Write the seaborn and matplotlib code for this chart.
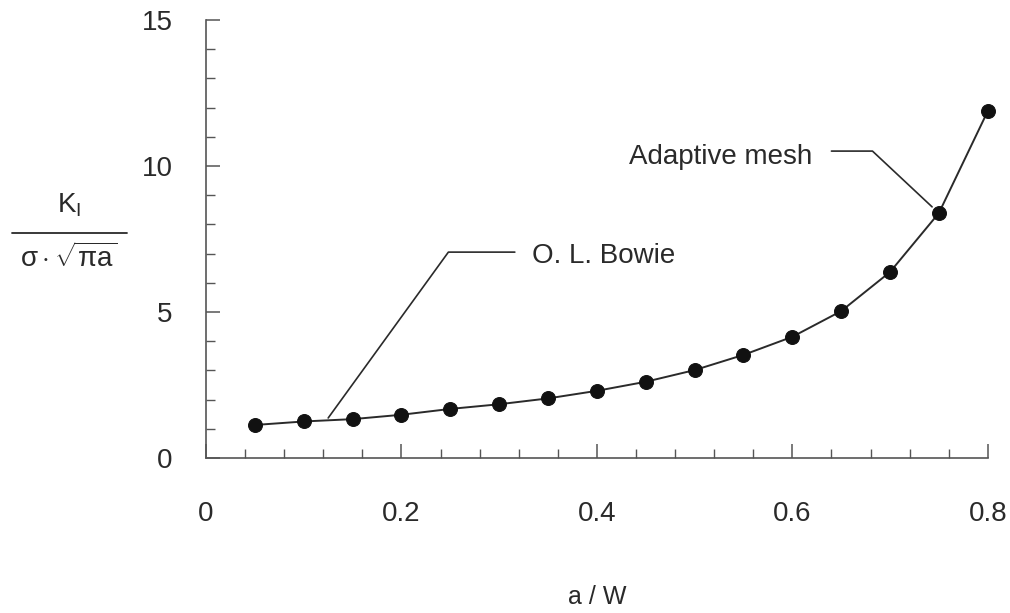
import numpy as np
import matplotlib
matplotlib.use('Agg')
import matplotlib.pyplot as plt
from matplotlib.ticker import MultipleLocator
from matplotlib.lines import Line2D
import seaborn as sns
import pandas as pd

# ---- data ----
a_over_w = [0.05, 0.10, 0.15, 0.20, 0.25, 0.30, 0.35, 0.40,
            0.45, 0.50, 0.55, 0.60, 0.65, 0.70, 0.75, 0.80]
k_norm   = [1.13, 1.25, 1.33, 1.48, 1.68, 1.84, 2.04, 2.30,
            2.61, 3.01, 3.53, 4.15, 5.03, 6.37, 8.39, 11.88]

x_ticks  = [0, 0.2, 0.4, 0.6, 0.8]
x_labels = ['0', '0.2', '0.4', '0.6', '0.8']
y_ticks  = [0, 5, 10, 15]

bowie_label = 'O. L. Bowie'
mesh_label  = 'Adaptive mesh'

df = pd.DataFrame({'a/W': a_over_w, 'K': k_norm})

sns.set_style('white')
plt.rcParams['font.family'] = ['Liberation Sans', 'DejaVu Sans']
plt.rcParams['mathtext.fontset'] = 'custom'
plt.rcParams['mathtext.rm'] = 'Liberation Sans'
plt.rcParams['mathtext.it'] = 'Liberation Sans'
plt.rcParams['mathtext.bf'] = 'Liberation Sans:bold'

FS = 20
INK = '#2a2a2a'
AXC = '#555555'

fig = plt.figure(figsize=(10.10, 6.13), dpi=100)
ax = fig.add_axes([0.204, 0.2529, 0.774, 0.7145])

sns.lineplot(data=df, x='a/W', y='K', ax=ax, color=INK, linewidth=1.4,
             marker='o', markersize=10, markerfacecolor='#111111',
             markeredgecolor='#111111', clip_on=False)

ax.set_xlim(0, 0.8)
ax.set_ylim(0, 15)

# axes look: only left + bottom, inward ticks
for s in ['top', 'right']:
    ax.spines[s].set_visible(False)
for s in ['left', 'bottom']:
    ax.spines[s].set_color(AXC)
    ax.spines[s].set_linewidth(1.2)

ax.set_xticks(x_ticks)
ax.set_xticklabels(x_labels)
ax.set_yticks(y_ticks)
ax.xaxis.set_minor_locator(MultipleLocator(0.04))
ax.yaxis.set_minor_locator(MultipleLocator(1))
ax.tick_params(which='both', bottom=True, left=True, top=False, right=False)
ax.tick_params(which='major', direction='in', length=10, width=1.1,
               color=AXC, labelsize=FS, labelcolor=INK)
ax.tick_params(which='minor', direction='in', length=6.5, width=1.0, color=AXC)
ax.tick_params(axis='x', which='major', pad=31)
ax.tick_params(axis='y', which='major', pad=24)

ax.set_xlabel('a / W', fontsize=18, color=INK, labelpad=42)
ax.set_ylabel('')

# y label drawn as a fraction: K_I over sigma*sqrt(pi a)
fig.text(69 / 1010, 1 - 205 / 613, r'$\mathrm{K_I}$', fontsize=FS,
         color=INK, ha='center', va='center')
fig.add_artist(Line2D([12 / 1010, 127 / 1010], [1 - 233 / 613, 1 - 233 / 613],
                      color=INK, lw=1.3))
fig.text(69 / 1010, 1 - 258 / 613, r'$\sigma\cdot\sqrt{\pi a}$', fontsize=FS,
         color=INK, ha='center', va='center')

# leader lines + labels
ax.plot([0.125, 0.248, 0.316], [1.37, 7.05, 7.05], color=INK, lw=1.2)
ax.text(0.334, 6.90, bowie_label, fontsize=FS, color=INK, va='center', ha='left')

ax.plot([0.640, 0.682, 0.743], [10.51, 10.51, 8.6], color=INK, lw=1.2)
ax.text(0.4327, 10.30, mesh_label, fontsize=FS, color=INK, va='center', ha='left')

fig.savefig('out.png', dpi=100)
plt.close(fig)
